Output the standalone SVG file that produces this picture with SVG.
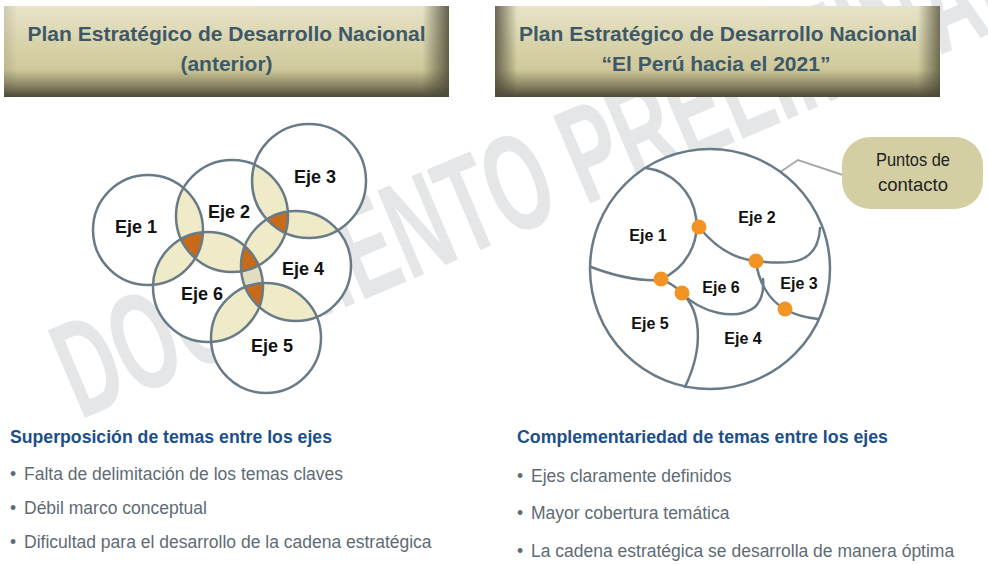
<svg xmlns="http://www.w3.org/2000/svg" width="988" height="564" viewBox="0 0 988 564">
<style>
.hdr{font-family:"Liberation Sans",Arial,sans-serif;font-weight:bold;font-size:21px;fill:#3d5969;text-anchor:middle}
.lbl{font-family:"Liberation Sans",Arial,sans-serif;font-weight:bold;fill:#111;text-anchor:middle}
.ring{fill:none;stroke:#687b87;stroke-width:2.5}
.wf{fill:#fff}
.pair{fill:#efeac8}
.pair2{fill:#e2dcc0}
.tri{fill:#c96a18}
.bd{fill:none;stroke:#687b87;stroke-width:2.5;stroke-linecap:round}
.dot{fill:#f29423}
.sub{font-family:"Liberation Sans Narrow","Liberation Sans",Arial,sans-serif;font-weight:bold;font-size:18px;fill:#1c4f8a}
.bul{font-family:"Liberation Sans",Arial,sans-serif;font-size:17.5px;fill:#5e6b74}
.wm{font-family:"Liberation Sans",Arial,sans-serif;font-weight:bold;font-size:138px;fill:#e5e6e8}
.call{font-family:"Liberation Sans Narrow","Liberation Sans",Arial,sans-serif;font-size:19px;fill:#222;text-anchor:middle}
</style>
<defs>
<linearGradient id="gv" x1="0" y1="0" x2="0" y2="1">
<stop offset="0" stop-color="#e7e3c8"/>
<stop offset="0.45" stop-color="#d8d2a9"/>
<stop offset="0.7" stop-color="#cfc89a"/>
<stop offset="0.86" stop-color="#8f8a68"/>
<stop offset="1" stop-color="#4b4936"/>
</linearGradient>
<linearGradient id="ghL" x1="0" y1="0" x2="1" y2="0">
<stop offset="0" stop-color="#4b4936" stop-opacity="0.15"/>
<stop offset="0.03" stop-color="#4b4936" stop-opacity="0"/>
<stop offset="0.94" stop-color="#4b4936" stop-opacity="0"/>
<stop offset="1" stop-color="#4b4936" stop-opacity="0.85"/>
</linearGradient>
<linearGradient id="ghR" x1="0" y1="0" x2="1" y2="0">
<stop offset="0" stop-color="#4b4936" stop-opacity="0.8"/>
<stop offset="0.05" stop-color="#4b4936" stop-opacity="0"/>
<stop offset="0.95" stop-color="#4b4936" stop-opacity="0"/>
<stop offset="1" stop-color="#4b4936" stop-opacity="0.75"/>
</linearGradient>
<clipPath id="k1"><circle cx="148" cy="230" r="55"/></clipPath>
<clipPath id="k2"><circle cx="232" cy="216" r="56"/></clipPath>
<clipPath id="k3"><circle cx="309" cy="181" r="57"/></clipPath>
<clipPath id="k4"><circle cx="296" cy="266" r="55"/></clipPath>
<clipPath id="k5"><circle cx="266" cy="338" r="55"/></clipPath>
<clipPath id="k6"><circle cx="208" cy="287" r="55"/></clipPath>
</defs>

<g id="watermark">
<text class="wm" transform="translate(80,420) rotate(-23)" textLength="1050" lengthAdjust="spacingAndGlyphs">DOCUMENTO PRELIMINAR</text>
</g>

<g id="header-left">
<rect x="4" y="6" width="445" height="91" fill="url(#gv)"/>
<rect x="4" y="6" width="445" height="91" fill="url(#ghL)"/>
<text class="hdr" x="226.5" y="41">Plan Estratégico de Desarrollo Nacional</text>
<text class="hdr" x="226.5" y="71">(anterior)</text>
</g>

<g id="header-right">
<rect x="495" y="6" width="445" height="91" fill="url(#gv)"/>
<rect x="495" y="6" width="445" height="91" fill="url(#ghR)"/>
<text class="hdr" x="718" y="41">Plan Estratégico de Desarrollo Nacional</text>
<text class="hdr" x="716" y="71">“El Perú hacia el 2021”</text>
</g>

<g id="venn-overlaps">
<circle class="wf" cx="148" cy="230" r="55"/>
<circle class="wf" cx="232" cy="216" r="56"/>
<circle class="wf" cx="309" cy="181" r="57"/>
<circle class="wf" cx="296" cy="266" r="55"/>
<circle class="wf" cx="266" cy="338" r="55"/>
<circle class="wf" cx="208" cy="287" r="55"/>
<circle class="pair" cx="148" cy="230" r="55" clip-path="url(#k2)"/>
<circle class="pair" cx="148" cy="230" r="55" clip-path="url(#k6)"/>
<circle class="pair" cx="232" cy="216" r="56" clip-path="url(#k3)"/>
<circle class="pair" cx="232" cy="216" r="56" clip-path="url(#k4)"/>
<circle class="pair" cx="232" cy="216" r="56" clip-path="url(#k6)"/>
<circle class="pair" cx="309" cy="181" r="57" clip-path="url(#k4)"/>
<circle class="pair2" cx="296" cy="266" r="55" clip-path="url(#k6)"/>
<circle class="pair" cx="296" cy="266" r="55" clip-path="url(#k5)"/>
<circle class="pair" cx="266" cy="338" r="55" clip-path="url(#k6)"/>
<g clip-path="url(#k6)"><circle class="tri" cx="148" cy="230" r="55" clip-path="url(#k2)"/></g>
<g clip-path="url(#k6)"><circle class="tri" cx="232" cy="216" r="56" clip-path="url(#k4)"/></g>
<g clip-path="url(#k4)"><circle class="tri" cx="232" cy="216" r="56" clip-path="url(#k3)"/></g>
<g clip-path="url(#k6)"><circle class="tri" cx="296" cy="266" r="55" clip-path="url(#k5)"/></g>
</g>

<g id="eje1-left"><circle class="ring" cx="148" cy="230" r="55"/><text class="lbl" x="136" y="233" font-size="18">Eje 1</text></g>
<g id="eje2-left"><circle class="ring" cx="232" cy="216" r="56"/><text class="lbl" x="229" y="218" font-size="18">Eje 2</text></g>
<g id="eje3-left"><circle class="ring" cx="309" cy="181" r="57"/><text class="lbl" x="315" y="183" font-size="18">Eje 3</text></g>
<g id="eje4-left"><circle class="ring" cx="296" cy="266" r="55"/><text class="lbl" x="303" y="275" font-size="18">Eje 4</text></g>
<g id="eje5-left"><circle class="ring" cx="266" cy="338" r="55"/><text class="lbl" x="272" y="352" font-size="18">Eje 5</text></g>
<g id="eje6-left"><circle class="ring" cx="208" cy="287" r="55"/><text class="lbl" x="202" y="300" font-size="18">Eje 6</text></g>

<g id="connectors">
<polyline points="699,227 798,160 843,175" fill="none" stroke="#a9a9a9" stroke-width="2"/>
</g>

<g id="sphere">
<circle cx="710" cy="269" r="120" fill="#fff" stroke="#687b87" stroke-width="2.5"/>
<path class="bd" d="M646,168 A58,58 0 0 1 661,279"/>
<path class="bd" d="M591,267 C620,278 645,281 661,280 C670,282 676,287 682,293 C700,312 735,322 755,307 C762,300 764,290 763,279"/>
<path class="bd" d="M699,227 C715,247 735,259 756,261 C790,265 818,265 820,228"/>
<path class="bd" d="M756,261 C758,280 768,300 785,309 C795,315 808,318 818,319"/>
<path class="bd" d="M682,293 C700,310 705,345 685,387"/>
<text class="lbl" x="648" y="241" font-size="16">Eje 1</text>
<text class="lbl" x="757" y="223" font-size="16">Eje 2</text>
<text class="lbl" x="799" y="289" font-size="16">Eje 3</text>
<text class="lbl" x="743" y="344" font-size="16">Eje 4</text>
<text class="lbl" x="650" y="329" font-size="16">Eje 5</text>
<text class="lbl" x="721" y="293" font-size="16">Eje 6</text>
</g>

<g id="contact-points">
<circle class="dot" cx="699" cy="227" r="7.5"/>
<circle class="dot" cx="661" cy="279" r="7.5"/>
<circle class="dot" cx="682" cy="293" r="7.5"/>
<circle class="dot" cx="756" cy="261" r="7.5"/>
<circle class="dot" cx="785" cy="309" r="7.5"/>
</g>

<g id="callout">
<rect x="842" y="137" width="141" height="72" rx="28" fill="#d4cfa2"/>
<text class="call" x="913" y="166" textLength="74" lengthAdjust="spacingAndGlyphs">Puntos de</text>
<text class="call" x="913" y="191" textLength="70" lengthAdjust="spacingAndGlyphs">contacto</text>
</g>

<g id="notes-left">
<text class="sub" x="10" y="443" textLength="322" lengthAdjust="spacingAndGlyphs">Superposición de temas entre los ejes</text>
<text class="bul" y="480"><tspan x="10">•</tspan><tspan x="24">Falta de delimitación de los temas claves</tspan></text>
<text class="bul" y="514"><tspan x="10">•</tspan><tspan x="24">Débil marco conceptual</tspan></text>
<text class="bul" y="548"><tspan x="10">•</tspan><tspan x="24">Dificultad para el desarrollo de la cadena estratégica</tspan></text>
</g>

<g id="notes-right">
<text class="sub" x="517" y="443" textLength="371" lengthAdjust="spacingAndGlyphs">Complementariedad de temas entre los ejes</text>
<text class="bul" y="482"><tspan x="517">•</tspan><tspan x="531">Ejes claramente definidos</tspan></text>
<text class="bul" y="519"><tspan x="517">•</tspan><tspan x="531">Mayor cobertura temática</tspan></text>
<text class="bul" y="557"><tspan x="517">•</tspan><tspan x="531">La cadena estratégica se desarrolla de manera óptima</tspan></text>
</g>
</svg>
